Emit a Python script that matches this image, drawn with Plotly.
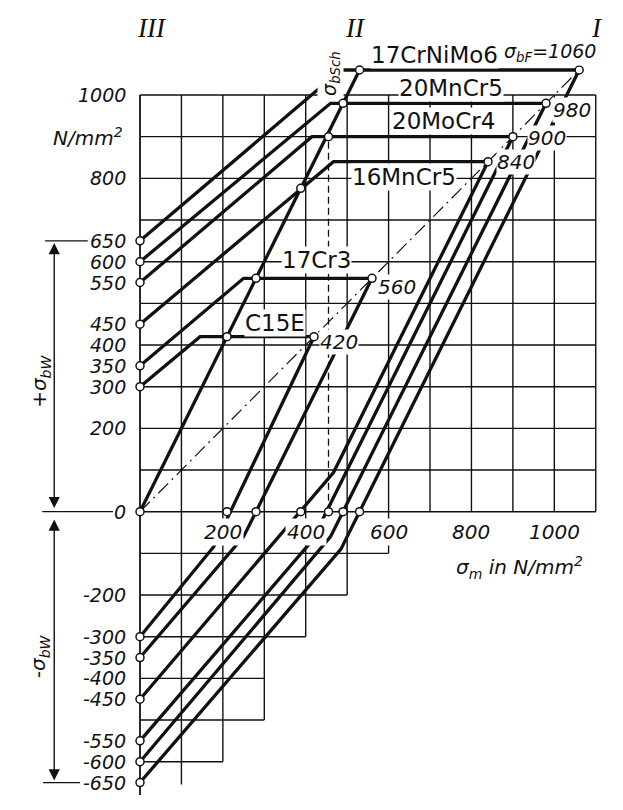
import plotly.graph_objects as go

# ---------------- data ----------------
materials = ["C15E", "17Cr3", "16MnCr5", "20MoCr4", "20MnCr5", "17CrNiMo6"]
sigma_bW = [300, 350, 450, 550, 600, 650]          # alternating bending strength
sigma_bF = [420, 560, 840, 900, 980, 1060]         # bending yield strength
knee_m = [145, 250, 467, 415, 460, 485]            # sigma_m where upper line reaches sigma_bF
knee_lm = [178, 250, 467, 415, 460, 485]           # sigma_m of the bend in the lower line
knee_u = [-84, -60, 94, -70, -60, -90]             # lower stress at that bend
sch_m = [210, 280, 388, 455, 490, 530]             # sigma_m at pulsating point
sch_o = [420, 560, 776, 900, 980, 1060]            # upper stress at pulsating point

y_tick_vals = [1000, 800, 650, 600, 550, 450, 400, 350, 300, 200, 0,
               -200, -300, -350, -400, -450, -550, -600, -650]
x_tick_vals = [200, 400, 600, 800, 1000]

grid_x = list(range(0, 1200, 100))
grid_y = list(range(0, 1100, 100))
neg_h_levels = [-100, -200, -300, -400, -500, -600]
neg_h_ends = [600, 500, 400, 300, 300, 200]
neg_v_pos = [100, 200, 300, 400, 500, 600]
neg_v_ends = [-655, -600, -500, -300, -200, -100]

label_pos = {"C15E": (326, 454), "17Cr3": (427, 604), "16MnCr5": (637, 804),
             "20MoCr4": (732, 937), "20MnCr5": (750, 1017), "17CrNiMo6": (710, 1096)}
value_pos = {"420": (480, 407), "560": (620, 540), "840": (907, 840),
             "900": (982, 898), "980": (1042, 964)}

# ---------------- figure ----------------
FONT = "DejaVu Sans"
BLACK = "#111111"
fig = go.Figure()
shapes = []


def seg(x0, y0, x1, y1, w=1.4, dash=None):
    d = dict(type="line", x0=x0, y0=y0, x1=x1, y1=y1, xref="x", yref="y",
             line=dict(color=BLACK, width=w), layer="below")
    if dash:
        d["line"]["dash"] = dash
    shapes.append(d)


# positive-quadrant grid
for gx in grid_x:
    if gx == 0:
        continue
    seg(gx, 0, gx, 1000)
for gy in grid_y:
    seg(0, gy, 1100, gy)
# left axis
seg(0, -680, 0, 1000, w=1.8)
# staircase grid below zero
for lv, end in zip(neg_h_levels, neg_h_ends):
    seg(0, lv, end, lv)
for vx, end in zip(neg_v_pos, neg_v_ends):
    seg(vx, 0, vx, end)

# dimension ticks on the left
seg(-229, 650, -126, 650, w=1.3)
seg(-236, 0, -65, 0, w=1.3)
seg(-234, -650, -145, -650, w=1.3)

# dash-dot diagonal and dashed vertical
fig.add_trace(go.Scatter(x=[0, sigma_bF[-1]], y=[0, sigma_bF[-1]], mode="lines",
                         line=dict(color=BLACK, width=1.2, dash="14px,5px,2px,5px"),
                         hoverinfo="skip"))
fig.add_trace(go.Scatter(x=[sch_m[3], sch_m[3]], y=[0, sch_o[3]], mode="lines",
                         line=dict(color=BLACK, width=1.3, dash="7px,4px"),
                         hoverinfo="skip"))

# upper and lower limit curves
for i in range(len(materials)):
    fig.add_trace(go.Scatter(x=[0, knee_m[i], sigma_bF[i]],
                             y=[sigma_bW[i], sigma_bF[i], sigma_bF[i]],
                             mode="lines", line=dict(color=BLACK, width=3.3),
                             hoverinfo="skip"))
    fig.add_trace(go.Scatter(x=[0, knee_lm[i], sigma_bF[i]],
                             y=[-sigma_bW[i], knee_u[i], sigma_bF[i]],
                             mode="lines", line=dict(color=BLACK, width=3.3),
                             hoverinfo="skip"))

# pulsating-strength line sigma_bSch
fig.add_trace(go.Scatter(x=[0, sch_m[-1]], y=[0, sch_o[-1]], mode="lines",
                         line=dict(color=BLACK, width=3.3), hoverinfo="skip"))

# open circle markers
dot_x = [0] * len(sigma_bW) * 2 + [0] + sch_m + sch_m + sigma_bF
dot_y = sigma_bW + [-v for v in sigma_bW] + [0] + sch_o + [0] * len(sch_m) + sigma_bF
fig.add_trace(go.Scatter(x=dot_x, y=dot_y, mode="markers",
                         marker=dict(symbol="circle", size=8, color="white",
                                     line=dict(color=BLACK, width=1.5)),
                         hoverinfo="skip"))

ann = []
# y tick labels
for v in y_tick_vals:
    ann.append(dict(x=-28, y=v, text=str(v), showarrow=False, xanchor="right",
                    yanchor="middle", font=dict(family=FONT, size=19, color=BLACK, style="italic")))
ann.append(dict(x=-36, y=899, text="N/mm<sup>2</sup>", showarrow=False, xanchor="right",
                yanchor="middle", font=dict(family=FONT, size=20, color=BLACK, style="italic")))
# x tick labels
for v in x_tick_vals:
    ann.append(dict(x=v, y=-49, text=str(v), showarrow=False, xanchor="center",
                    yanchor="middle", bgcolor="white", borderpad=1,
                    font=dict(family=FONT, size=20, color=BLACK, style="italic")))
ann.append(dict(x=917, y=-135, text="σ<sub>m</sub> in N/mm<sup>2</sup>", showarrow=False,
                xanchor="center", yanchor="middle",
                font=dict(family=FONT, size=20, color=BLACK, style="italic")))

# material labels
for m in materials:
    px, py = label_pos[m]
    ann.append(dict(x=px, y=py, text=m, showarrow=False, xanchor="center", yanchor="middle",
                    bgcolor="white", borderpad=0,
                    font=dict(family=FONT, size=23, color=BLACK)))
for t, (px, py) in value_pos.items():
    ann.append(dict(x=px, y=py, text=t, showarrow=False, xanchor="center", yanchor="middle",
                    bgcolor="white", borderpad=0,
                    font=dict(family=FONT, size=20, color=BLACK, style="italic")))
ann.append(dict(x=990, y=1102, text="σ<sub>bF</sub>=1060", showarrow=False, xanchor="center",
                yanchor="middle", bgcolor="white", borderpad=0,
                font=dict(family=FONT, size=19, color=BLACK, style="italic")))
ann.append(dict(x=461, y=1053, text="σ<sub>bSch</sub>", showarrow=False, xanchor="center",
                yanchor="middle", textangle=-90, bgcolor="white", borderpad=0,
                font=dict(family=FONT, size=19, color=BLACK, style="italic")))

# roman numerals
for t, px in [("III", 30), ("II", 521), ("I", 1103)]:
    ann.append(dict(x=px, y=1162, text=t, showarrow=False, xanchor="center", yanchor="middle",
                    font=dict(family="Liberation Serif", size=27, color=BLACK, style="italic")))

# left rotated labels
ann.append(dict(x=-241, y=312, text="+σ<sub>bW</sub>", showarrow=False, textangle=-90,
                xanchor="center", yanchor="middle", bgcolor="white", borderpad=2,
                font=dict(family=FONT, size=20, color=BLACK, style="italic")))
ann.append(dict(x=-243, y=-346, text="-σ<sub>bW</sub>", showarrow=False, textangle=-90,
                xanchor="center", yanchor="middle", bgcolor="white", borderpad=2,
                font=dict(family=FONT, size=20, color=BLACK, style="italic")))

# double arrows
for (y0, y1) in [(5, 645), (-15, -645)]:
    ann.append(dict(x=-207, y=y1, ax=-207, ay=y0, axref="x", ayref="y", xref="x", yref="y",
                    text="", showarrow=True, arrowhead=2, arrowsize=1.6, arrowwidth=1.4,
                    startarrowhead=2, startarrowsize=1.6, arrowside="end+start",
                    arrowcolor=BLACK))

fig.update_layout(
    width=623, height=810, margin=dict(l=0, r=0, t=0, b=0),
    paper_bgcolor="white", plot_bgcolor="white", showlegend=False,
    xaxis=dict(range=[-337.9, 1165.8], visible=False, showgrid=False, zeroline=False),
    yaxis=dict(range=[-715.9, 1228.0], visible=False, showgrid=False, zeroline=False),
    shapes=shapes, annotations=ann,
)
fig.write_html("out.html", config={"displayModeBar": False})
